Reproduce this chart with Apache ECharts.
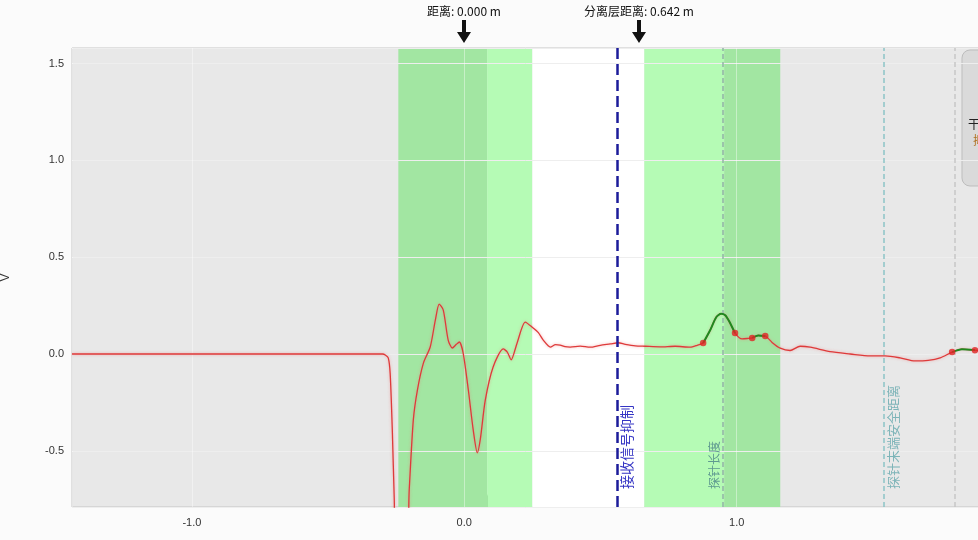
<!DOCTYPE html>
<html>
<head>
<meta charset="utf-8">
<script src="https://cdn.jsdelivr.net/npm/echarts@6/dist/echarts.min.js"></script>
<style>
html,body{margin:0;padding:0;background:#fbfbfb;}
#c{width:978px;height:540px;}
</style>
</head>
<body>
<div id="c"></div>
<script>
// ---- data ----
const xRange = [-1.44, 1.93];
const yRange = [-0.79, 1.58];

const echoCurve = [
  [-1.44,0.0],[-0.90,0.0],[-0.50,0.0],[-0.30,0.0],[-0.29,-0.005],[-0.279,-0.02],[-0.272,-0.10],
  [-0.264,-0.40],[-0.257,-0.75],[-0.25,-1.0],[-0.213,-1.0],[-0.202,-0.70],[-0.187,-0.34],
  [-0.172,-0.186],[-0.150,-0.047],[-0.125,0.036],[-0.106,0.176],[-0.092,0.258],[-0.077,0.227],
  [-0.059,0.072],[-0.044,0.031],[-0.029,0.05],[-0.018,0.062],[-0.004,0.005],[0.015,-0.186],
  [0.033,-0.393],[0.048,-0.51],[0.059,-0.44],[0.077,-0.24],[0.106,-0.067],[0.143,0.026],
  [0.158,0.01],[0.172,-0.03],[0.194,0.057],[0.224,0.165],[0.253,0.134],[0.272,0.11],
  [0.290,0.072],[0.316,0.036],[0.335,0.048],[0.352,0.046],[0.370,0.038],[0.389,0.036],[0.426,0.041],
  [0.462,0.035],[0.499,0.045],[0.536,0.052],[0.565,0.058],[0.591,0.05],[0.628,0.042],
  [0.664,0.04],[0.719,0.037],[0.774,0.04],[0.829,0.035],[0.855,0.045],[0.877,0.057],
  [0.903,0.124],[0.925,0.19],[0.943,0.208],[0.958,0.2],[0.972,0.17],[0.994,0.108],
  [1.020,0.078],[1.039,0.08],[1.057,0.083],[1.079,0.096],[1.105,0.093],[1.130,0.06],
  [1.160,0.03],[1.196,0.018],[1.233,0.04],[1.270,0.035],[1.343,0.012],[1.417,0.0],
  [1.490,-0.01],[1.545,-0.01],[1.600,-0.02],[1.655,-0.036],[1.703,-0.033],[1.747,-0.02],
  [1.791,0.01],[1.827,0.025],[1.875,0.02],[1.93,0.015]
];

const echoPeakA = [[0.877,0.057],[0.903,0.124],[0.925,0.19],[0.943,0.208],[0.958,0.2],[0.972,0.17],[0.994,0.108]];
const echoPeakB = [[1.057,0.083],[1.079,0.096],[1.105,0.093]];
const echoPeakC = [[1.791,0.01],[1.827,0.025],[1.875,0.02]];
const peakDots = [[0.877,0.057],[0.994,0.108],[1.057,0.083],[1.105,0.093],[1.791,0.01],[1.875,0.02]];

const bandEdges = [[-0.242,0.084],[0.084,0.250],[0.250,0.661],[0.661,0.954],[0.954,1.160]];
const bandKinds = ['dark','light','white','light','dark'];

const lineNames = ['接收信号抑制','探针长度','探针末端安全距离',''];
const lineValues = [0.558, 0.954, 1.545, 1.80];

const topNoteTexts = ['距离: 0.000 m','分离层距离: 0.642 m'];
const topNoteValues = [0.0, 0.642];

const pctTexts = ['100 %','0 %'];
const pctValues = [0.084, 0.954];

const yAxisName = 'V';

// ---- styles ----
const bandColor = {dark:'#a2e6a2', light:'#b5fbb5', white:'#ffffff'};
const lineStyles = [
  {color:'#1c1c9a', width:2.5, type:[11,5]},
  {color:'#93b3a6', width:1.5, type:[5,3]},
  {color:'#8cc3c6', width:1.5, type:[5,3]},
  {color:'#c6c6c6', width:1.5, type:[5,3]}
];
const lineLabelColors = ['#3434c4','#5f9a90','#7db4b8','#999'];
const lineLabelPos = ['insideStartBottom','insideStartTop','insideStartBottom','insideStartBottom'];
const lineLabelSize = [14,12,13,12];

const chart = echarts.init(document.getElementById('c'));

function isMult(v, step){ return Math.abs(v/step - Math.round(v/step)) < 1e-6; }

const option = {
  animation:false,
  backgroundColor:'#fbfbfb',
  grid:{left:72, right:-12, top:48, bottom:33, containLabel:false, outerBoundsMode:'none',
    show:true, backgroundColor:'#e8e8e8', borderColor:'#c4c4c4', borderWidth:1},
  xAxis:{
    type:'value', min:xRange[0], max:xRange[1], splitNumber:3, z:3,
    axisLine:{show:false}, axisTick:{show:false},
    axisLabel:{color:'#333', fontSize:11, fontFamily:'Liberation Sans, Arial', margin:10,
      formatter:v=> isMult(v,1) ? v.toFixed(1) : ''},
    splitLine:{show:true, lineStyle:{color:'rgba(255,255,255,0.4)', width:1}}
  },
  yAxis:{
    type:'value', min:yRange[0], max:yRange[1], splitNumber:5, z:3,
    name:yAxisName, nameLocation:'middle', nameRotate:90, nameGap:60,
    nameTextStyle:{color:'#333', fontSize:12, fontFamily:'Liberation Sans, Arial'},
    axisLine:{show:false}, axisTick:{show:false},
    axisLabel:{color:'#333', fontSize:11, fontFamily:'Liberation Sans, Arial', margin:8,
      formatter:v=> isMult(v,0.5) ? v.toFixed(1) : ''},
    splitLine:{show:true, lineStyle:{color:'#eeeeee', width:1}}
  },
  series:[
    {
      type:'line', name:'bands', data:[], z:1, silent:true,
      markArea:{silent:true,
        data: bandEdges.map((e,i)=>[{xAxis:e[0], itemStyle:{color:bandColor[bandKinds[i]]}},{xAxis:e[1]}])}
    },
    {
      type:'line', name:'echo', data:echoCurve, showSymbol:false, smooth:0.25, z:4,
      lineStyle:{color:'#de3a3a', width:1.3, shadowBlur:3, shadowColor:'rgba(240,120,120,0.6)'},
      markLine:{silent:true, symbol:['none','none'],
        data: lineValues.map((v,i)=>({
          xAxis:v, lineStyle:lineStyles[i],
          label:{show: !!lineNames[i], formatter: lineNames[i], position: lineLabelPos[i],
            color: lineLabelColors[i], fontSize:lineLabelSize[i], fontFamily:'Noto Sans CJK SC', distance:[18,3]}
        }))
      }
    },
    {type:'line', data:echoPeakA, showSymbol:false, smooth:0.25, z:5, lineStyle:{color:'#1f8a1f', width:2}},
    {type:'line', data:echoPeakB, showSymbol:false, smooth:0.25, z:5, lineStyle:{color:'#1f8a1f', width:2}},
    {type:'line', data:echoPeakC, showSymbol:false, smooth:0.25, z:5, lineStyle:{color:'#1f8a1f', width:2}},
    {type:'scatter', data:peakDots, symbolSize:6.5, z:6, itemStyle:{color:'#e02424'}}
  ]
};
chart.setOption(option);

// ---- annotations positioned through the axes ----
const g = [];
topNoteValues.forEach((v,i)=>{
  const p = chart.convertToPixel({gridIndex:0}, [v, yRange[1]]);
  const x = Math.round(p[0]);
  g.push({type:'text', x: x, y: 5, style:{text: topNoteTexts[i], fill:'#111', font:'12px "Noto Sans CJK SC", sans-serif', align:'center'}});
  g.push({type:'polygon', shape:{points:[[x-2,20],[x+2,20],[x+2,32],[x+7,32],[x,43],[x-7,32],[x-2,32]]}, style:{fill:'#111'}});
});
pctValues.forEach((v,i)=>{
  const p = chart.convertToPixel({gridIndex:0}, [v, yRange[0]]);
  const x = Math.round(p[0]), yb = Math.round(p[1]);
  if(i===0){
    g.push({type:'polygon', shape:{points:[[x,yb-13],[x,yb],[x+6,yb]]}, style:{fill:'#1b5a1b'}});
    g.push({type:'text', x:x-2, y:yb-14, style:{text:pctTexts[i], fill:'#1e5a1e', font:'11px "Liberation Sans", Arial', align:'right'}});
  } else {
    g.push({type:'polygon', shape:{points:[[x,yb-13],[x,yb],[x-6,yb]]}, style:{fill:'#1b5a1b'}});
    g.push({type:'text', x:x+2, y:yb-14, style:{text:pctTexts[i], fill:'#1e5a1e', font:'11px "Liberation Sans", Arial', align:'left'}});
  }
});
// cut-off side panel on the right
g.push({type:'rect', shape:{x:962, y:50, width:40, height:136, r:8}, style:{fill:'#dadada', stroke:'#bdbdbd', lineWidth:1}});
g.push({type:'text', x:968, y:118, style:{text:'干扰', fill:'#222', font:'12px "Noto Sans CJK SC"'}});
g.push({type:'text', x:973, y:134, style:{text:'抑制', fill:'#b07020', font:'12px "Noto Sans CJK SC"'}});
chart.setOption({graphic:g});
</script>
</body>
</html>
